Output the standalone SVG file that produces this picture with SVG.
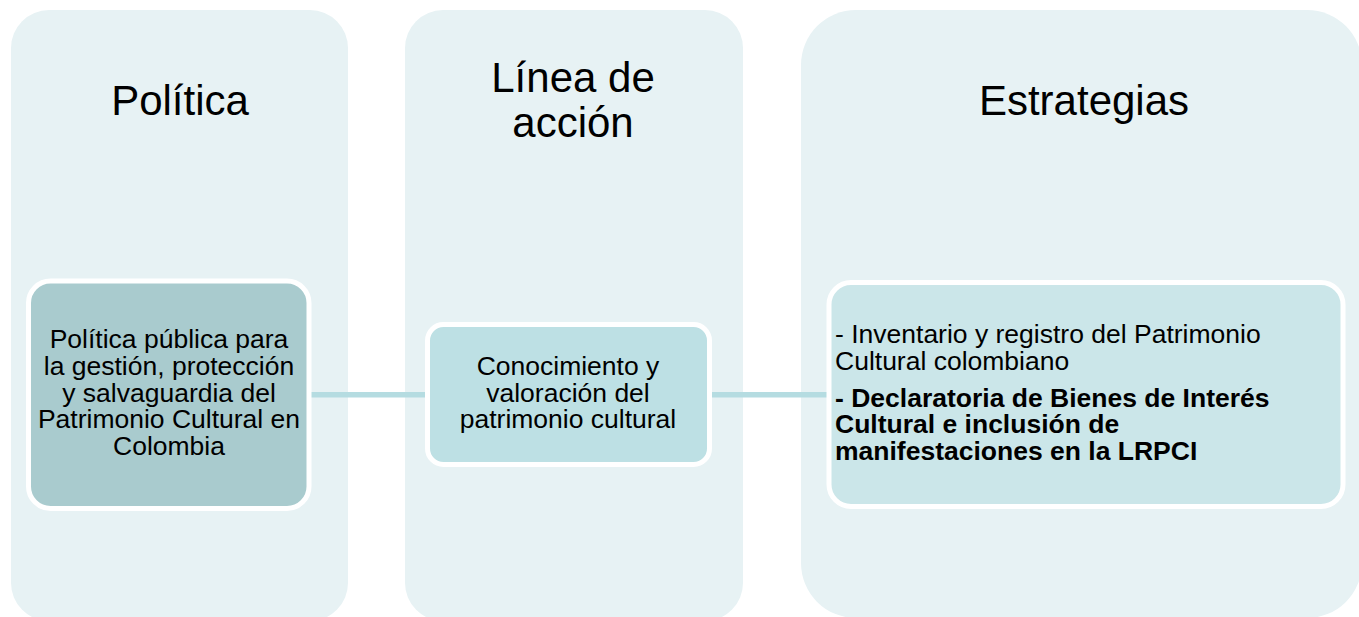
<svg xmlns="http://www.w3.org/2000/svg" width="1359" height="617" viewBox="0 0 1359 617">
<style>
.col{fill:#E7F2F4;}
.node{stroke:#FFFFFF;stroke-width:5;}
.head{font-family:"Liberation Sans",Arial,sans-serif;font-size:42px;fill:#000;text-anchor:middle;}
.t{font-family:"Liberation Sans",Arial,sans-serif;font-size:26.5px;fill:#000;}
.c{text-anchor:middle;}
.b{font-weight:bold;}
.conn{stroke:#B5DCE1;stroke-width:5.5;fill:none;}
</style>
<rect width="1359" height="617" fill="#FFFFFF"/>
<g id="col-politica">
<rect class="col" x="11" y="10" width="337" height="611" rx="38" ry="38"/>
<text class="head" x="180" y="115">Política</text>
</g>
<g id="col-linea">
<rect class="col" x="405" y="10" width="338" height="611" rx="38" ry="38"/>
<text class="head" x="573" y="92">Línea de</text>
<text class="head" x="573" y="137">acción</text>
</g>
<g id="col-estrategias">
<rect class="col" x="801" y="10" width="561" height="608" rx="55" ry="55"/>
<text class="head" x="1084" y="115">Estrategias</text>
</g>
<g id="connectors">
<line class="conn" x1="309" y1="394.7" x2="427" y2="394.7"/>
<line class="conn" x1="710" y1="394.7" x2="829" y2="394.7"/>
</g>
<g id="node-politica">
<rect class="node" x="28.5" y="281" width="280.5" height="227.5" rx="22" ry="22" fill="#A9CBCE"/>
<text class="t c" x="169" y="348.3">Política pública para</text>
<text class="t c" x="169" y="375">la gestión, protección</text>
<text class="t c" x="169" y="401.7">y salvaguardia del</text>
<text class="t c" x="169" y="428.3">Patrimonio Cultural en</text>
<text class="t c" x="169" y="455">Colombia</text>
</g>
<g id="node-linea">
<rect class="node" x="427.5" y="324.5" width="282" height="140" rx="16" ry="16" fill="#BDE0E4"/>
<text class="t c" x="568" y="375">Conocimiento y</text>
<text class="t c" x="568" y="401.7">valoración del</text>
<text class="t c" x="568" y="428.3">patrimonio cultural</text>
</g>
<g id="node-estrategias">
<rect class="node" x="829" y="282.5" width="514" height="224" rx="22" ry="22" fill="#CBE6E9"/>
<text class="t" x="835" y="343.3">- Inventario y registro del Patrimonio</text>
<text class="t" x="835" y="370">Cultural colombiano</text>
<text class="t b" x="835" y="406.7">- Declaratoria de Bienes de Interés</text>
<text class="t b" x="835" y="433.3">Cultural e inclusión de</text>
<text class="t b" x="835" y="460">manifestaciones en la LRPCI</text>
</g>
</svg>
